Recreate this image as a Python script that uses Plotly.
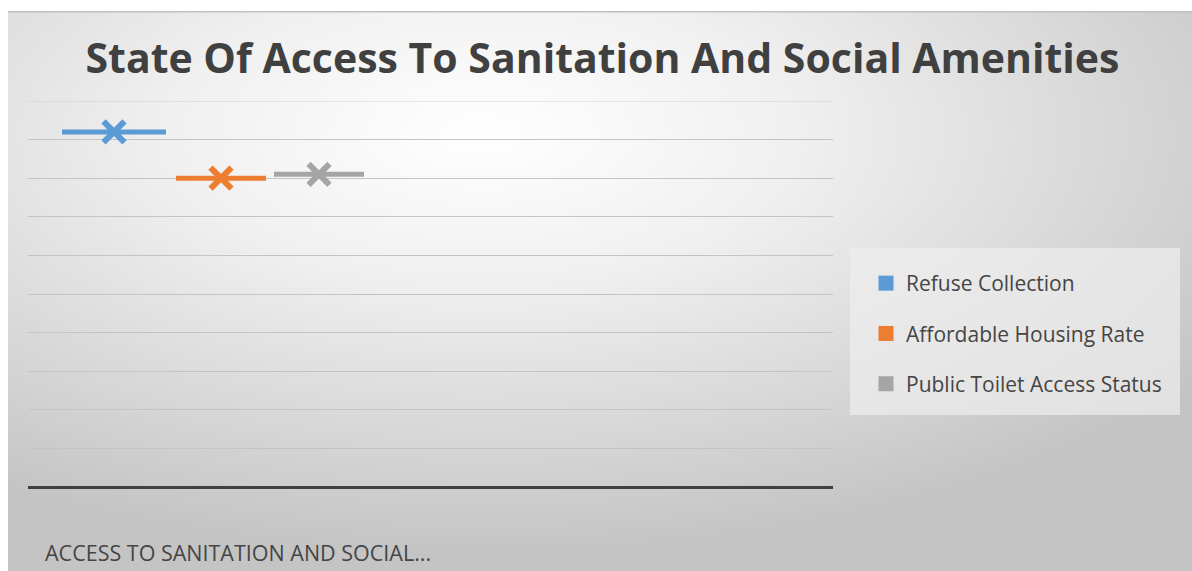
import plotly.graph_objects as go
import urllib.parse

# ---- data ----
categories = ["ACCESS TO SANITATION AND SOCIAL..."]
series_names = ["Refuse Collection", "Affordable Housing Rate", "Public Toilet Access Status"]
series_values = [92, 80, 81]
series_colors = ["#5B9BD5", "#ED7D31", "#A5A5A5"]

# ---- layout geometry (pixels) ----
W, H = 1192, 571
L, R, T, B = 28, 833, 101, 487
pw, ph = R - L, B - T

# series horizontal placement (axis units, 1 unit = 100 px)
centers = [0.86, 1.93, 2.91]
half_widths = [0.52, 0.45, 0.45]

fig = go.Figure()

for name, val, col, cx, hw in zip(series_names, series_values, series_colors, centers, half_widths):
    fig.add_trace(go.Scatter(
        x=[cx - hw, cx + hw], y=[val, val],
        mode="lines",
        line=dict(color=col, width=5),
        showlegend=False, hoverinfo="skip",
    ))
    fig.add_trace(go.Scatter(
        x=[cx], y=[val],
        mode="markers",
        marker=dict(symbol="x-thin", size=21, color=col, opacity=1,
                    line=dict(color=col, width=6)),
        showlegend=False, hoverinfo="skip",
    ))
    fig.add_trace(go.Scatter(
        x=[None], y=[None], mode="markers", name=name,
        marker=dict(symbol="square", size=15, color=col),
        legendgroup=name,
    ))

# radial gradient background as SVG data URI
svg = (
    '<svg xmlns="http://www.w3.org/2000/svg" width="1184" height="560" preserveAspectRatio="none">'
    '<defs><radialGradient id="g" cx="0.40" cy="0.22" r="0.75" fx="0.40" fy="0.22">'
    '<stop offset="0" stop-color="#ffffff"/>'
    '<stop offset="0.35" stop-color="#f0f0f0"/>'
    '<stop offset="1" stop-color="#c4c4c4"/>'
    '</radialGradient></defs>'
    '<rect width="1184" height="560" fill="url(#g)"/>'
    '<rect x="0" y="0" width="1184" height="1.5" fill="#c0c0c0"/>'
    '</svg>'
)
src = "data:image/svg+xml;charset=utf-8," + urllib.parse.quote(svg)

def px_x(p):
    return (p - L) / pw

def px_y(p):
    return (B - p) / ph

fig.add_layout_image(dict(
    source=src, xref="paper", yref="paper",
    x=px_x(8), y=px_y(11), sizex=px_x(W) - px_x(8), sizey=px_y(11) - px_y(H),
    xanchor="left", yanchor="top", sizing="stretch", layer="below",
))

# legend background box
fig.add_shape(type="rect", xref="paper", yref="paper",
              x0=px_x(850), x1=px_x(1180), y0=px_y(415), y1=px_y(248),
              fillcolor="rgba(238,238,238,0.7)", line=dict(width=0), layer="below")

# top gridline (at the range edge)
fig.add_shape(type="line", xref="paper", yref="y", x0=0, x1=1, y0=100, y1=100,
              line=dict(color="#d0d0d0", width=1.2), layer="below")

# category label
fig.add_annotation(text=categories[0], xref="paper", yref="paper",
                   x=px_x(43), y=px_y(552), xanchor="left", yanchor="middle",
                   showarrow=False, font=dict(family="Open Sans", size=21.5, color="#454545"))

fig.update_layout(
    width=W, height=H,
    margin=dict(l=L, r=W - R, t=T, b=H - B, autoexpand=False),
    paper_bgcolor="white", plot_bgcolor="rgba(0,0,0,0)",
    title=dict(text="State Of Access To Sanitation And Social Amenities",
               x=(85 + 1120) / 2 / W, xanchor="center", y=1 - 59 / H, yanchor="middle",
               font=dict(family="Open Sans", size=41, color="#404040", weight=700)),
    xaxis=dict(range=[0, pw / 100], showgrid=False, zeroline=False,
               showticklabels=False, showline=False, fixedrange=True),
    yaxis=dict(range=[0, 100], dtick=10, showgrid=True, gridcolor="#c4c4c4", gridwidth=1.2,
               zeroline=True, zerolinecolor="#404040", zerolinewidth=2.5,
               showticklabels=False, showline=False, fixedrange=True),
    legend=dict(x=px_x(866), y=px_y(263), xanchor="left", yanchor="top",
                bgcolor="rgba(0,0,0,0)", tracegroupgap=20,
                font=dict(family="Open Sans", size=21, color="#454545")),
    showlegend=True,
)

fig.write_html("out.html")
